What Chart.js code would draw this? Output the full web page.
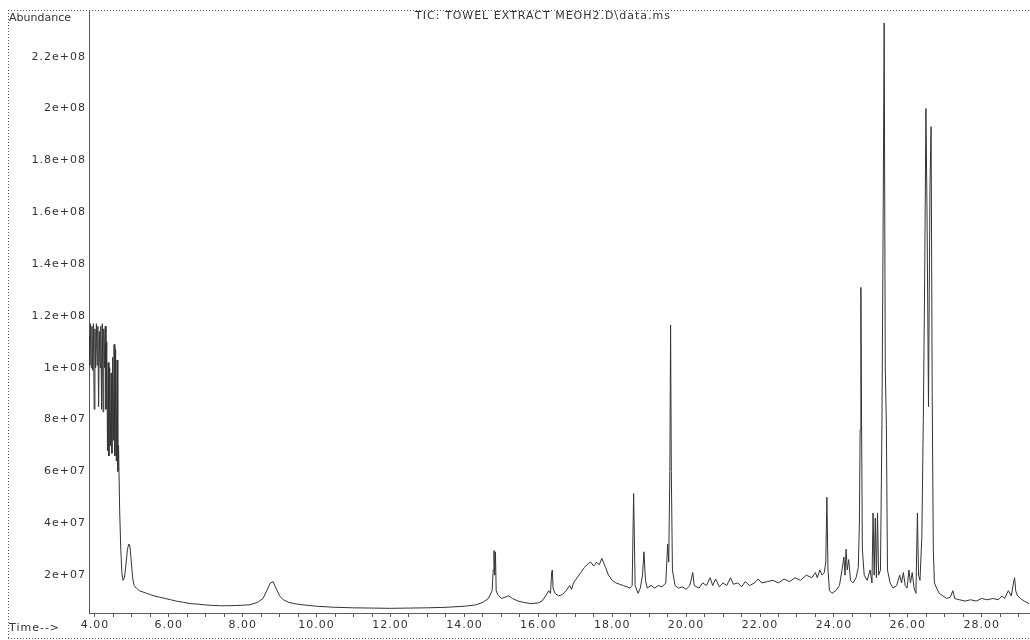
<!DOCTYPE html>
<html>
<head>
<meta charset="utf-8">
<script src="https://cdn.jsdelivr.net/npm/chart.js@4/dist/chart.umd.min.js"></script>
<style>
  html, body { margin: 0; padding: 0; background: #ffffff; }
  canvas { display: block; }
</style>
</head>
<body>
<canvas id="tic" width="1030" height="640"></canvas>
<script>
// Total ion chromatogram: [retention time (min), abundance]
const tic = [
  [3.84,112e6],[3.86,101e6],[3.88,117e6],[3.90,100e6],[3.92,116e6],[3.94,99e6],[3.96,117e6],[3.98,84e6],
  [4.00,115e6],[4.02,100e6],[4.04,117e6],[4.06,101e6],[4.08,116e6],[4.10,85e6],[4.12,114e6],[4.14,100e6],
  [4.16,116e6],[4.18,84e6],[4.20,117e6],[4.22,83e6],[4.24,115e6],[4.26,100e6],[4.28,116e6],[4.30,84e6],
  [4.32,110e6],[4.34,68e6],[4.36,102e6],[4.38,66e6],[4.40,100e6],[4.42,70e6],[4.44,98e6],[4.46,67e6],
  [4.48,104e6],[4.50,72e6],[4.52,109e6],[4.54,66e6],[4.56,107e6],[4.58,64e6],[4.60,103e6],[4.62,60e6],
  [4.64,70e6],[4.67,45e6],[4.70,30e6],[4.73,21e6],[4.76,18e6],[4.80,19e6],[4.84,24e6],[4.88,30e6],
  [4.92,32e6],[4.95,31e6],[4.98,26e6],[5.02,19e6],[5.06,16e6],[5.12,15e6],[5.20,14e6],[5.30,13.5e6],
  [5.40,13e6],[5.50,12.5e6],[5.60,12e6],[5.75,11.5e6],[5.90,11e6],[6.05,10.5e6],[6.20,10e6],[6.40,9.5e6],
  [6.60,9e6],[6.80,8.8e6],[7.00,8.5e6],[7.20,8.3e6],[7.40,8.2e6],[7.60,8.2e6],[7.80,8.3e6],[8.00,8.4e6],
  [8.20,8.6e6],[8.40,9.5e6],[8.55,11e6],[8.65,14e6],[8.75,17e6],[8.82,17.5e6],[8.90,15e6],[9.00,12e6],
  [9.10,10.5e6],[9.25,9.5e6],[9.40,9e6],[9.60,8.6e6],[9.80,8.3e6],[10.00,8e6],[10.50,7.6e6],[11.00,7.4e6],
  [11.50,7.3e6],[12.00,7.2e6],[12.50,7.3e6],[13.00,7.4e6],[13.50,7.6e6],[14.00,8e6],[14.30,8.5e6],[14.50,9.5e6],
  [14.65,11e6],[14.75,14e6],[14.78,22e6],[14.80,29.5e6],[14.82,20e6],[14.84,29e6],[14.86,14e6],[14.90,12.5e6],
  [15.00,11e6],[15.10,11.5e6],[15.20,12e6],[15.30,11e6],[15.45,10e6],[15.60,9.5e6],[15.80,9e6],[16.00,9.3e6],
  [16.10,10e6],[16.20,12e6],[16.28,14e6],[16.33,13e6],[16.36,21e6],[16.38,22e6],[16.40,15e6],[16.45,13e6],
  [16.55,12e6],[16.65,12.5e6],[16.75,14e6],[16.85,16e6],[16.90,14.5e6],[16.95,17e6],[17.05,19e6],[17.15,21e6],
  [17.25,23e6],[17.35,24.5e6],[17.42,25e6],[17.50,23.5e6],[17.58,25e6],[17.65,24e6],[17.72,26.5e6],[17.76,25e6],
  [17.82,23e6],[17.90,20e6],[18.00,18e6],[18.10,17e6],[18.20,16.5e6],[18.30,16e6],[18.40,15.5e6],[18.48,15e6],
  [18.54,16e6],[18.58,51.5e6],[18.62,16e6],[18.70,13e6],[18.76,15e6],[18.82,20e6],[18.86,29e6],[18.90,18e6],
  [18.95,15e6],[19.05,16e6],[19.15,15e6],[19.25,16e6],[19.35,15.5e6],[19.45,17e6],[19.50,32e6],[19.53,25e6],
  [19.56,60e6],[19.58,116.5e6],[19.60,60e6],[19.63,22e6],[19.70,16e6],[19.80,15e6],[19.90,15.5e6],[20.00,14.5e6],
  [20.10,16e6],[20.18,21e6],[20.22,16e6],[20.35,15e6],[20.45,17e6],[20.55,16e6],[20.65,19e6],[20.72,16e6],
  [20.80,18.5e6],[20.90,15.5e6],[21.00,17e6],[21.10,16e6],[21.20,19e6],[21.28,16.5e6],[21.40,17e6],[21.50,15.5e6],
  [21.60,17.5e6],[21.72,16e6],[21.85,17e6],[21.95,18.5e6],[22.05,17e6],[22.20,17.5e6],[22.35,18e6],[22.50,17e6],
  [22.65,18.5e6],[22.80,17.5e6],[22.95,19e6],[23.10,18e6],[23.25,20e6],[23.40,19e6],[23.50,21e6],[23.55,19e6],
  [23.62,22e6],[23.68,20e6],[23.74,21e6],[23.78,25e6],[23.81,50e6],[23.84,22e6],[23.88,14e6],[23.95,13e6],
  [24.05,14e6],[24.15,16e6],[24.22,22e6],[24.27,27e6],[24.30,20e6],[24.33,30e6],[24.36,22e6],[24.40,26e6],
  [24.45,18e6],[24.52,17e6],[24.60,19e6],[24.66,23e6],[24.69,40e6],[24.71,76e6],[24.73,131e6],[24.75,76e6],
  [24.77,30e6],[24.82,20e6],[24.90,18e6],[24.98,22e6],[25.03,17e6],[25.06,44e6],[25.09,20e6],[25.12,42e6],
  [25.15,19e6],[25.18,44e6],[25.21,20e6],[25.26,22e6],[25.30,78e6],[25.33,150e6],[25.36,233e6],[25.39,100e6],
  [25.42,78e6],[25.45,22e6],[25.52,17e6],[25.60,15e6],[25.70,16e6],[25.78,20e6],[25.83,17e6],[25.88,21e6],
  [25.93,16e6],[25.98,15e6],[26.03,22e6],[26.07,17e6],[26.12,21e6],[26.17,15e6],[26.22,13e6],[26.26,44e6],
  [26.29,20e6],[26.33,18e6],[26.38,35e6],[26.42,80e6],[26.46,140e6],[26.49,200e6],[26.52,160e6],[26.56,85e6],
  [26.60,170e6],[26.63,193e6],[26.66,90e6],[26.69,30e6],[26.72,17e6],[26.78,15e6],[26.85,13e6],[26.95,12e6],
  [27.05,11e6],[27.15,11.5e6],[27.22,14e6],[27.27,11e6],[27.40,10.5e6],[27.55,10e6],[27.70,10.5e6],[27.85,10e6],
  [28.00,11e6],[28.15,10.5e6],[28.30,11e6],[28.45,10.5e6],[28.55,12e6],[28.62,11e6],[28.72,14e6],[28.80,12e6],
  [28.86,17e6],[28.89,19e6],[28.92,14e6],[28.97,12e6],[29.05,11e6],[29.15,10e6],[29.28,9e6]
];

// Axis ranges and labelled ticks
const timeRange = [3.84, 29.28];
const abundanceRange = [5.4e6, 2.38e8];
const timeTicks = [4, 6, 8, 10, 12, 14, 16, 18, 20, 22, 24, 26, 28];
const timeMinorStep = 0.5;
const abundanceTicks = [2e7, 4e7, 6e7, 8e7, 1e8, 1.2e8, 1.4e8, 1.6e8, 1.8e8, 2e8, 2.2e8];

const chartTitle = 'TIC: TOWEL EXTRACT MEOH2.D\\data.ms';
const yAxisName = 'Abundance';
const xAxisName = 'Time-->';

const INK = '#333333';
const FRAME = '#5a5a5a';
const FONT = '"DejaVu Sans", "Liberation Sans", sans-serif';

Chart.defaults.font.family = FONT;
Chart.defaults.font.size = 11;
Chart.defaults.color = INK;

// Mantissa + two-digit exponent, e.g. 2.2e+08
function expLabel(v) {
  const e = Math.floor(Math.log10(v) + 1e-9);
  const m = +(v / Math.pow(10, e)).toFixed(2);
  return m + 'e+' + String(e).padStart(2, '0');
}

const minorTimes = [];
for (let t = timeTicks[0]; t <= timeRange[1]; t += timeMinorStep) minorTimes.push(+t.toFixed(2));

const spacing = {
  id: 'spacing',
  beforeUpdate(chart) { chart.ctx.letterSpacing = '1px'; },
  beforeDraw(chart) { chart.ctx.letterSpacing = '1px'; }
};

// Outer dotted frame plus the axis captions and the data-file title
const frame = {
  id: 'frame',
  afterDraw(chart) {
    const ctx = chart.ctx;
    const a = chart.chartArea;
    const W = chart.width, H = chart.height;
    ctx.save();
    ctx.strokeStyle = FRAME;
    ctx.lineWidth = 1;
    ctx.setLineDash([1, 2]);
    ctx.beginPath();
    ctx.moveTo(8, a.top + 0.5); ctx.lineTo(W, a.top + 0.5);
    ctx.moveTo(8.5, a.top); ctx.lineTo(8.5, H - 1.5);
    ctx.moveTo(8, H - 1.5); ctx.lineTo(W, H - 1.5);
    ctx.stroke();
    ctx.setLineDash([]);

    ctx.fillStyle = INK;
    ctx.font = '11px ' + FONT;
    ctx.textBaseline = 'middle';
    ctx.textAlign = 'left';
    ctx.letterSpacing = '0px';
    ctx.fillText(yAxisName, 9, a.top + 8);
    ctx.letterSpacing = '1px';
    ctx.fillText(xAxisName, 9, H - 12);
    ctx.textAlign = 'center';
    ctx.fillText(chartTitle, (a.left + a.right) / 2 - 16, a.top + 6);
    ctx.restore();
  }
};

new Chart(document.getElementById('tic'), {
  type: 'line',
  data: {
    datasets: [{
      data: tic.map(([t, v]) => ({ x: t, y: v })),
      borderColor: INK,
      borderWidth: 1,
      pointRadius: 0,
      tension: 0,
      fill: false
    }]
  },
  options: {
    responsive: false,
    animation: false,
    events: [],
    layout: { padding: { left: 8, top: 10, right: 1, bottom: 0 } },
    plugins: { legend: { display: false }, tooltip: { enabled: false }, title: { display: false } },
    scales: {
      x: {
        type: 'linear',
        min: timeRange[0],
        max: timeRange[1],
        afterBuildTicks: s => { s.ticks = minorTimes.map(v => ({ value: v })); },
        afterFit: s => { s.height = 27; },
        ticks: {
          autoSkip: false,
          maxRotation: 0,
          padding: 2,
          color: INK,
          callback: v => timeTicks.includes(v) ? v.toFixed(2) : ''
        },
        grid: { display: true, drawOnChartArea: false, drawTicks: true, tickLength: 4, color: FRAME, tickColor: FRAME },
        border: { display: true, color: FRAME, width: 1, dash: [2, 2] }
      },
      y: {
        type: 'linear',
        min: abundanceRange[0],
        max: abundanceRange[1],
        afterBuildTicks: s => { s.ticks = abundanceTicks.map(v => ({ value: v })); },
        afterFit: s => { s.width = 81; },
        ticks: { padding: 3, color: INK, callback: v => expLabel(v) },
        grid: { display: false, drawTicks: false },
        border: { display: true, color: FRAME, width: 1, dash: [2, 2] }
      }
    }
  },
  plugins: [spacing, frame]
});
</script>
</body>
</html>
